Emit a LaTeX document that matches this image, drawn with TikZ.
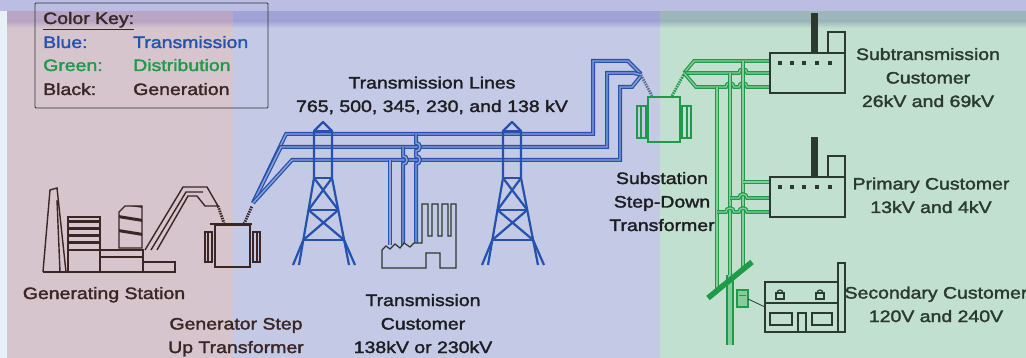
\documentclass[tikz,border=0pt]{standalone}
\usepackage{fontspec}
\setmainfont{Liberation Sans}[FakeStretch=1.18, FakeBold=2]
\usepackage{tikz}
\usetikzlibrary{positioning}

\definecolor{edgestrip}{HTML}{E8F0F8}
\definecolor{topband}{HTML}{BCBDE2}
\definecolor{genpink}{HTML}{D6C5CC}
\definecolor{transblue}{HTML}{C4CAE6}
\definecolor{distgreen}{HTML}{C2E0CF}
\definecolor{bandpink}{HTML}{B9A6C4}
\definecolor{bandblue}{HTML}{A0A3D6}
\definecolor{bandgreen}{HTML}{9DB6B9}
\definecolor{lineblue}{HTML}{2452AE}
\definecolor{wirefill}{HTML}{8FA3D8}
\definecolor{linegreen}{HTML}{1F9A48}
\definecolor{greenfill}{HTML}{86CC9C}
\definecolor{gencol}{HTML}{3B2626}
\definecolor{custcol}{HTML}{2A3A2E}
\definecolor{labelcol}{HTML}{1E1E22}

\newcommand{\labelfont}{\fontsize{16.5}{23.5}\selectfont}

\begin{document}
\begin{tikzpicture}[x=1pt,y=-1pt,
  key text/.style={font=\labelfont, anchor=base west, inner sep=0pt},
  label text/.style={font=\labelfont, text=labelcol, align=center, anchor=base, inner sep=0pt},
  hv line/.style={draw=lineblue, line width=1.3pt, double=wirefill, double distance=1.4pt},
  dist line/.style={draw=linegreen, line width=1.2pt, double=greenfill, double distance=1.3pt},
  gen line/.style={draw=gencol, line width=1.4pt},
  cust line/.style={draw=custcol, line width=1.2pt},
  tower line/.style={draw=lineblue, line width=2.2pt, line join=round},
  bushing/.style={line width=2.8pt, dash pattern=on 1.5pt off 1pt}]
	\useasboundingbox (0,0) rectangle (1026,358);

	% background regions
	\fill[edgestrip] (0,0) rectangle (1026,358);
	\fill[genpink] (7,11) rectangle (233,358);
	\fill[transblue] (233,11) rectangle (660,358);
	\fill[distgreen] (660,11) rectangle (1026,358);
	\fill[topband] (0,0) rectangle (1026,11);
	\foreach \xa/\xb/\band/\base in {7/233/bandpink/genpink, 233/660/bandblue/transblue, 660/1026/bandgreen/distgreen} {
		\fill[\band] (\xa,11) rectangle (\xb,21);
		\shade[top color=\band, bottom color=\base] (\xa,21) rectangle (\xb,28);
	}

	% colour key
	\draw[gray!40!black, line width=0.9pt, rounded corners=1pt] (35,3) rectangle (268,108);
	\node[key text, text=gencol] (keytitle) at (43,24) {\underline{Color Key:}};
	\node[key text, text=lineblue] (keyblue) at (43,48) {Blue:};
	\node[key text, text=lineblue] (keytrans) at (133,48) {Transmission};
	\node[key text, text=linegreen] (keygreen) at (43,71) {Green:};
	\node[key text, text=linegreen] (keydist) at (133,71) {Distribution};
	\node[key text, text=gencol] (keyblack) at (43,95) {Black:};
	\node[key text, text=gencol] (keygen) at (133,95) {Generation};

	% generating station
	\draw[gen line] (43,272) -- (50,190) -- (57,188) -- (66,272);
	\draw[gen line] (57,200) -- (60,272);
	\draw[gen line] (43,272) -- (175,272);
	\draw[gen line] (68,217) rectangle (100,272);
	\draw[gen line] (68,250) -- (100,250);
	\foreach \sy in {220,227,234,241}
		\fill[gencol] (68,\sy) rectangle (100,\sy+3);
	\draw[gen line] (100,250) rectangle (143,272);
	\draw[gen line] (100,257) -- (143,257);
	\draw[gen line] (143,262) rectangle (175,272);
	\draw[gen line] (119,212) -- (125,206) -- (142,206) -- (142,248) -- (119,248) -- cycle;
	\begin{scope}
		\clip (119,212) -- (125,206) -- (142,206) -- (142,248) -- (119,248) -- cycle;
		\foreach \d in {0,14,28}
			\draw[gencol, line width=3pt] (115,230-\d) -- (146,205-\d+30);
	\end{scope}
	\draw[gen line] (145,250) -- (183,187) -- (207,187) -- (218,206) -- (205,206) -- (197,196) -- (188,196) -- (157,250);
	\draw[gen line] (151,250) -- (186,192) -- (203,192);
	\draw[gencol, bushing] (218,206) -- (224,223);

	% generator step up transformer
	\draw[gen line] (215,225) rectangle (250,267);
	\draw[gen line] (205,232) rectangle (212,262);
	\draw[gen line] (208,232) -- (208,262);
	\draw[gen line] (253,232) rectangle (260,262);
	\draw[gen line] (257,232) -- (257,262);
	\draw[gen line] (210,224) -- (252,224);
	\draw[gencol, bushing] (244,224) -- (252,206);

	% transmission lines
	\draw[hv line] (253,203) -- (286,134) -- (593,134) -- (593,61) -- (628,61) -- (641,74);
	\draw[hv line] (253,203) -- (281,147) -- (607,147) -- (607,73) -- (634,73) -- (641,75);
	\draw[hv line] (253,203) -- (292,160) -- (620,160) -- (620,87) -- (632,87) -- (641,76);

	% towers
	\foreach \tx in {323,512} {
		\begin{scope}[xshift=\tx pt]
			\draw[tower line] (-9,178) -- (-9,131) -- (0,122) -- (9,131) -- (9,178);
			\draw[tower line] (-9,131) -- (9,131);
			\draw[tower line] (-9,178) -- (-24,265);
			\draw[tower line] (9,178) -- (26,265);
			\draw[tower line] (-9,178) -- (9,178);
			\draw[tower line] (-9,178) -- (15.3,210) (9,178) -- (-14.5,210);
			\draw[tower line] (-14.5,210) -- (15.3,210);
			\draw[tower line] (-14.5,210) -- (21.1,240) (15.3,210) -- (-19.7,240);
			\draw[tower line] (-19.7,240) -- (21.1,240);
			\draw[tower line] (-19.7,240) -- (-30,265) (21.1,240) -- (32,265);
		\end{scope}
	}

	% transmission customer
	\draw[hv line] (390,160) -- (390,245);
	\draw[hv line] (403,147) -- (403,156) arc[start angle=-90, end angle=90, radius=4] -- (403,245);
	\draw[hv line] (416,134) -- (416,143) arc[start angle=-90, end angle=90, radius=4]
		-- (416,156) arc[start angle=-90, end angle=90, radius=4] -- (416,245);
	\draw[cust line, fill=transblue] (382,268) -- (382,250) -- (386,246) -- (390,249) -- (395,244) -- (400,248)
		-- (404,243) -- (410,247) -- (414,243) -- (422,243) -- (422,204) -- (428,204) -- (428,236)
		-- (432,236) -- (432,204) -- (438,204) -- (438,236) -- (442,236) -- (442,204) -- (448,204)
		-- (448,236) -- (451,236) -- (451,204) -- (456,204) -- (456,268) -- (440,268) -- (440,253)
		-- (426,253) -- (426,268) -- cycle;

	% substation step down transformer
	\draw[gray!60!lineblue, bushing] (641,75) -- (652,96);
	\draw[linegreen, bushing] (672,96) -- (684,74);
	\draw[linegreen, line width=1.4pt] (648,97) rectangle (680,142);
	\draw[linegreen, line width=1.4pt] (637,106) rectangle (646,138);
	\draw[linegreen, line width=1.4pt] (641,106) -- (641,138);
	\draw[linegreen, line width=1.4pt] (682,106) rectangle (691,138);
	\draw[linegreen, line width=1.4pt] (687,106) -- (687,138);

	% distribution lines
	\draw[dist line] (684,73) -- (694,61) -- (770,61);
	\draw[dist line] (684,73) -- (739,73) arc[start angle=180, end angle=360, radius=4] -- (770,73);
	\draw[dist line] (684,73) -- (696,87) -- (726,87) arc[start angle=180, end angle=360, radius=4]
		-- (739,87) arc[start angle=180, end angle=360, radius=4] -- (770,87);
	\draw[dist line] (743,61) -- (743,269);
	\draw[dist line] (730,73) -- (730,280);
	\draw[dist line] (717,87) -- (717,291);
	\draw[dist line] (743,182) -- (770,182);
	\draw[dist line] (730,198) -- (739,198) arc[start angle=180, end angle=360, radius=4] -- (770,198);
	\draw[dist line] (717,212) -- (726,212) arc[start angle=180, end angle=360, radius=4]
		-- (739,212) arc[start angle=180, end angle=360, radius=4] -- (770,212);

	% pole
	\draw[linegreen, line width=1.4pt, double=greenfill, double distance=4.5pt] (730,275) -- (730,345);
	\draw[linegreen, line width=5.5pt] (708,298) -- (752,262);
	\draw[linegreen, line width=1.3pt, fill=greenfill] (737,290) rectangle (748,307);
	\draw[linegreen, line width=1pt] (739,296) -- (746,296);
	\draw[custcol, line width=0.8pt] (748,299) -- (765,307);

	% customer buildings
	\foreach \by in {0,124} {
		\begin{scope}[yshift=-\by pt]
			\draw[cust line] (770,53) rectangle (845,93);
			\fill[custcol] (811,13) rectangle (818,53);
			\draw[cust line] (828,53) -- (828,32) -- (845,32) -- (845,53);
			\foreach \dx in {780,792,804,817,830}
				\fill[custcol] (\dx-2,61) rectangle (\dx+2,65);
		\end{scope}
	}
	\draw[cust line] (765,282) rectangle (838,332);
	\draw[cust line] (838,263) rectangle (845,332);
	\draw[cust line] (765,303) -- (838,303);
	\foreach \lx in {780,820} {
		\draw[cust line] (\lx-3,293) arc[start angle=180, end angle=360, radius=3];
		\draw[cust line] (\lx-4,293) rectangle (\lx+4,299);
	}
	\draw[cust line] (770,313) rectangle (792,325);
	\draw[cust line] (798,313) rectangle (806,332);
	\draw[cust line] (812,313) rectangle (832,325);

	% labels (base = last line)
	\node[label text] (lineslabel) at (432,112) {Transmission Lines\\765, 500, 345, 230, and 138 kV};
	\node[label text, text=gencol] (genlabel) at (104,299) {Generating Station};
	\node[label text, text=gencol] (stepuplabel) at (236,353) {Generator Step\\Up Transformer};
	\node[label text] (transcustlabel) at (423,353) {Transmission\\Customer\\138kV or 230kV};
	\node[label text] (substationlabel) at (662,231) {Substation\\Step-Down\\Transformer};
	\node[label text, text=custcol] (subtranslabel) at (928,107) {Subtransmission\\Customer\\26kV and 69kV};
	\node[label text, text=custcol] (primarylabel) at (931,213) {Primary Customer\\13kV and 4kV};
	\node[label text, text=custcol] (secondarylabel) at (936,322) {Secondary Customer\\120V and 240V};
\end{tikzpicture}
\end{document}
